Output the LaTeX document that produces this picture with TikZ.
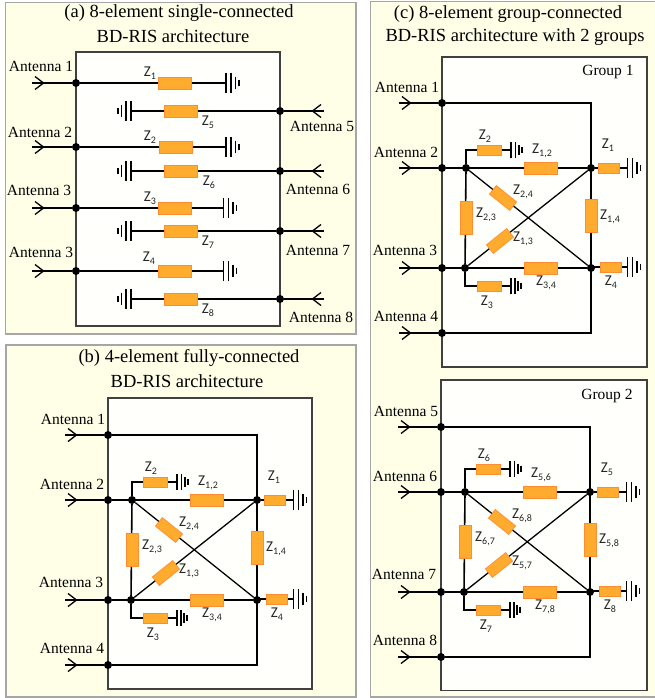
\documentclass[tikz,border=0pt]{standalone}
\usepackage{fontspec}
\setmainfont{Liberation Serif}
\newfontfamily\zfont{Carlito}
\definecolor{panelbg}{HTML}{FEFFE6}
\definecolor{boxbg}{HTML}{FFFFFB}
\definecolor{panelline}{HTML}{A6A6A6}
\definecolor{boxline}{HTML}{404040}
\definecolor{resfill}{HTML}{FFAB2E}
\definecolor{resline}{HTML}{FF8C33}
\tikzset{
  panel/.style={draw=panelline,line width=1.6pt,fill=panelbg},
  inbox/.style={draw=boxline,line width=1.7pt,fill=boxbg},
  wire/.style={draw=black,line width=1.6pt},
  chevline/.style={draw=black,line width=1.3pt,line join=round},
  thinwire/.style={draw=black,line width=1.3pt},
  junction/.style={circle,fill=black,inner sep=0pt,minimum size=8pt},
  resbig/.style={draw=resline,line width=.7pt,fill=resfill,inner sep=0pt,minimum width=33pt,minimum height=12pt},
  resmid/.style={draw=resline,line width=.7pt,fill=resfill,inner sep=0pt,minimum width=24pt,minimum height=10pt},
  ressm/.style={draw=resline,line width=.7pt,fill=resfill,inner sep=0pt,minimum width=21pt,minimum height=10pt},
  title/.style={font=\fontsize{18.5}{20}\selectfont,inner sep=0pt,align=center},
  ant/.style={font=\fontsize{15.5}{18}\selectfont,inner sep=0pt},
  zlab/.style={font=\zfont\fontsize{15}{18}\selectfont,inner sep=0pt,text=black!85},
}
\newcommand{\zl}[1]{Z\raisebox{-3pt}{\fontsize{10}{10}\selectfont #1}}
% chevron: tip point, direction (+1 points right, -1 left)
\newcommand{\chev}[2]{\draw[chevline] ([xshift=-#2*8.5pt,yshift=6.5pt]#1) -- (#1) -- ([xshift=-#2*8.5pt,yshift=-6.5pt]#1);}
% ground: coordinate, direction, x-scale, y-scale
\newcommand{\gnd}[4]{%
 \draw[line width=1.5pt] ([yshift=10*#4 pt]#1) -- ([yshift=-10*#4 pt]#1);
 \draw[line width=1.5pt] ([xshift=#2*5*#3 pt,yshift=10*#4 pt]#1) -- ([xshift=#2*5*#3 pt,yshift=-10*#4 pt]#1);
 \draw[line width=1.5pt] ([xshift=#2*9.3*#3 pt,yshift=6.3*#4 pt]#1) -- ([xshift=#2*9.3*#3 pt,yshift=-6.3*#4 pt]#1);
 \draw[line width=1.5pt] ([xshift=#2*13*#3 pt,yshift=3.3*#4 pt]#1) -- ([xshift=#2*13*#3 pt,yshift=-3.3*#4 pt]#1);}
% single-connected rows
\newcommand{\leftrow}[7]{% id, y, resx, gndx, label text, label x/y, Z label
 \coordinate (s#1) at (32,#2); \coordinate (t#1) at (43.5,#2);
 \node[junction] (j#1) at (76,#2) {};
 \coordinate (g#1) at (#4,#2);
 \draw[wire] (s#1) -- (j#1);
 \draw[wire] (j#1) -- (g#1);
 \chev{t#1}{1}
 \gnd{g#1}{1}{1}{1}
 \node[resbig] (r#1) at (#3,#2) {};
 \node[ant] (an#1) at (#6) {#5};
 \node[zlab] (zn#1) at (#7) {\zl{#1}};}
\newcommand{\rightrow}[5]{% id, y, label, label pos, Z pos
 \coordinate (s#1) at (324,#2); \coordinate (t#1) at (312.5,#2);
 \node[junction] (j#1) at (280,#2) {};
 \coordinate (g#1) at (131,#2);
 \draw[wire] (s#1) -- (j#1);
 \draw[wire] (j#1) -- (g#1);
 \chev{t#1}{-1}
 \gnd{g#1}{-1}{1}{1}
 \node[resbig] (r#1) at (181,#2) {};
 \node[ant] (an#1) at (#4) {#3};
 \node[zlab] (zn#1) at (#5) {\zl{#1}};}
% fully-connected block: prefix, dx, dy, a,b,c,d, top-Z dy
\newcommand{\fullblock}[8]{%
 \begin{scope}[shift={(#2,#3)}]
 \node[junction] (#1a1) at (108,435) {};
 \node[junction] (#1a2) at (108,500) {};
 \node[junction] (#1a3) at (108,600) {};
 \node[junction] (#1a4) at (108,665) {};
 \node[junction] (#1l2) at (132,500) {};
 \node[junction] (#1l3) at (131,600) {};
 \node[junction] (#1r1) at (257,500) {};
 \node[junction] (#1r4) at (257,600) {};
 \coordinate (#1c1) at (257,435);
 \coordinate (#1c4) at (257,665);
 \coordinate (#1c2) at (132,482+#8);
 \coordinate (#1c3) at (131,618);
 \coordinate (#1g2) at (177,482+#8);
 \coordinate (#1g3) at (177,618);
 \coordinate (#1g1) at (293.5,500);
 \coordinate (#1g4) at (293.5,599);
 \foreach \n/\y in {1/435,2/500,3/600,4/665}{
   \coordinate (#1s\n) at (65,\y);
   \coordinate (#1t\n) at (76.5,\y);
   \draw[wire] (#1s\n) -- (#1a\n);
   \chev{#1t\n}{1}
 }
 \draw[wire] (#1a1) -- (#1c1) -- (#1c4) -- (#1a4);
 \draw[wire] (#1a2) -- (#1r1);
 \draw[wire] (#1a3) -- (#1r4);
 \draw[wire] (#1r1) -- (#1g1);
 \draw[wire] (#1r4 |- #1g4) -- (#1g4);
 \draw[wire] (#1l2) -- (#1l3);
 \draw[wire] (#1l2) -- (#1c2) -- (#1g2);
 \draw[wire] (#1l3) -- (#1c3) -- (#1g3);
 \draw[thinwire] (#1l2) -- (#1r4);
 \draw[thinwire] (#1l3) -- (#1r1);
 \gnd{#1g1}{1}{1}{1}
 \gnd{#1g4}{1}{1}{1}
 \gnd{#1g2}{1}{.85}{.8}
 \gnd{#1g3}{1}{.75}{.8}
 \node[resbig] (#1rab) at (207,500) {};
 \node[resbig] (#1rcd) at (207,600) {};
 \node[resbig,rotate=90] (#1rbc) at (132,550) {};
 \node[resbig,rotate=90] (#1rad) at (257,548) {};
 \node[resmid] (#1rb) at (155,482+#8) {};
 \node[resmid] (#1rc) at (155,618) {};
 \node[ressm] (#1ra) at (275,500) {};
 \node[ressm] (#1rd) at (277,599) {};
 \node[resbig,minimum width=26pt,minimum height=11pt,rotate=-38.7] (#1rbd) at (169,530) {};
 \node[resbig,minimum width=26pt,minimum height=11pt,rotate=38.7] (#1rac) at (166,573) {};
 \node[zlab] (#1za) at (274,477) {\zl{#4}};
 \node[zlab] (#1zb) at (151,468+#8) {\zl{#5}};
 \node[zlab] (#1zc) at (153,634) {\zl{#6}};
 \node[zlab] (#1zd) at (277,614) {\zl{#7}};
 \node[zlab] (#1zab) at (208,483) {\zl{#4,#5}};
 \node[zlab] (#1zcd) at (212,615) {\zl{#6,#7}};
 \node[zlab] (#1zbc) at (152,547) {\zl{#5,#6}};
 \node[zlab] (#1zad) at (276,549) {\zl{#4,#7}};
 \node[zlab] (#1zbd) at (189,524) {\zl{#5,#7}};
 \node[zlab] (#1zac) at (189,571) {\zl{#4,#6}};
 \node[ant] (#1n1) at (73,419) {Antenna #4};
 \node[ant] (#1n2) at (72,484) {Antenna #5};
 \node[ant] (#1n3) at (71,582) {Antenna #6};
 \node[ant] (#1n4) at (72,648) {Antenna #7};
 \end{scope}}
\begin{document}
\begin{tikzpicture}[x=1pt,y=-1pt]
\useasboundingbox (0,0) rectangle (655,698);
\fill[white] (0,0) rectangle (655,698);
% panel a
\path[panel] (5.5,2.5) rectangle (356,334);
\node[title] (ta1) at (179,13) {(a) 8-element single-connected};
\node[title] (ta2) at (173,36) {BD-RIS architecture};
\path[inbox] (76,52) rectangle (280,326);
\leftrow{1}{83}{175}{226}{Antenna 1}{41,66}{150,73}
\leftrow{2}{147}{175.5}{226}{Antenna 2}{40,132}{150,137}
\leftrow{3}{208}{175}{223.5}{Antenna 3}{39,190}{150,198}
\leftrow{4}{271}{174.5}{223.5}{Antenna 3}{41,252}{149,258}
\rightrow{5}{111}{Antenna 5}{322,126}{208,122}
\rightrow{6}{171}{Antenna 6}{318,189}{209,182}
\rightrow{7}{231}{Antenna 7}{318,250}{208,242}
\rightrow{8}{299}{Antenna 8}{321,317}{208,310}
% panel b
\path[panel] (6,345) rectangle (356,697);
\node[title] (tb1) at (189,358) {(b) 4-element fully-connected};
\node[title] (tb2) at (187,381) {BD-RIS architecture};
\path[inbox] (108,398) rectangle (312,689);
\fullblock{b}{0}{0}{1}{2}{3}{4}{0}
% panel c
\path[panel] (370.5,1.5) rectangle (662,697);
\node[title] (tc1) at (508,14) {(c) 8-element group-connected};
\node[title] (tc2) at (515,37) {BD-RIS architecture with 2 groups};
\path[inbox] (442,57) rectangle (647,367);
\node[ant] (g1) at (608,72) {Group 1};
\fullblock{c}{334}{-332}{1}{2}{3}{4}{0}
\path[inbox] (441,380) rectangle (647,690.5);
\node[ant] (g2) at (607,396) {Group 2};
\fullblock{d}{333}{-8}{5}{6}{7}{8}{-5}
\end{tikzpicture}
\end{document}
